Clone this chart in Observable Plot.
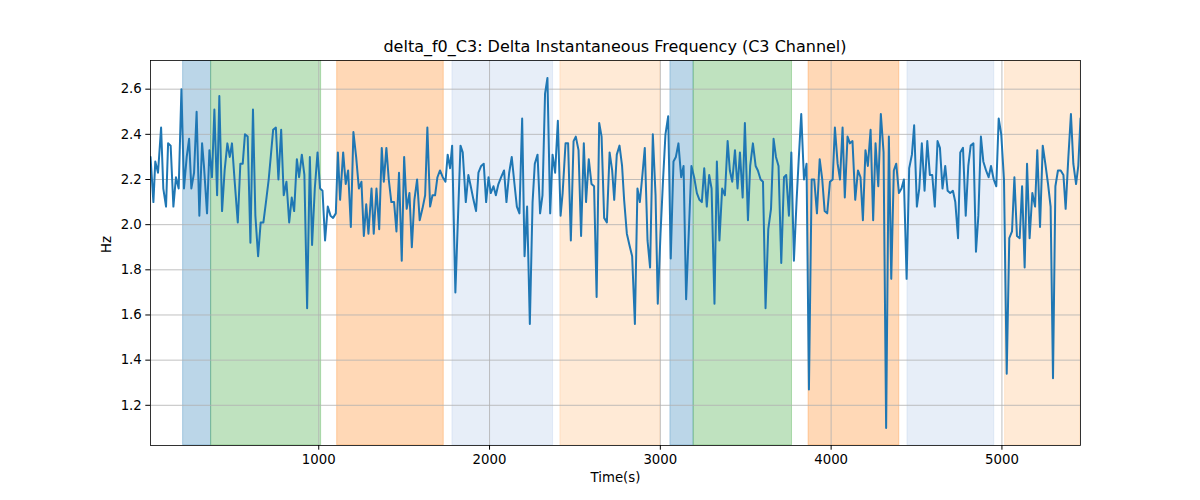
<!DOCTYPE html>
<html>
<head>
<meta charset="utf-8">
<script src="https://cdn.jsdelivr.net/npm/d3@7"></script>
<script src="https://cdn.jsdelivr.net/npm/@observablehq/plot@0.6"></script>
<style>
  html, body { margin: 0; padding: 0; background: #fff; }
  #title { width: 1200px; height: 52px; box-sizing: border-box; padding-top: 39px; padding-left: 30px;
           text-align: center; font-family: "DejaVu Sans", sans-serif; font-size: 16px; line-height: 16px; color: #000; }
  #chart svg { display: block; }
</style>
</head>
<body>
<div id="title">delta_f0_C3: Delta Instantaneous Frequency (C3 Channel)</div>
<div id="chart"></div>
<script>
const titleText = "delta_f0_C3: Delta Instantaneous Frequency (C3 Channel)";
const xLabel = "Time(s)";
const yLabel = "Hz";
const xTicks = [1000, 2000, 3000, 4000, 5000];
const yTicks = [1.2, 1.4, 1.6, 1.8, 2.0, 2.2, 2.4, 2.6];
const xDomain = [15, 5460];
const yDomain = [1.022, 2.727];

const spanStart = [206, 370, 1108, 1783, 2415, 3059, 3195, 3868, 4447, 5019];
const spanEnd   = [370, 1014, 1732, 2372, 3000, 3195, 3771, 4399, 4955, 5460];
const spanPhase = ["A", "B", "C", "D", "E", "A", "B", "C", "D", "E"];
const phaseNames = ["A", "B", "C", "D", "E"];
const phaseColors = ["#1f77b4", "#2ca02c", "#ff7f0e", "#aec7e8", "#ffbb78"];

const times = [
  15, 32, 43, 59, 77, 90, 106, 118, 133, 149, 164, 180, 196, 211, 227, 241, 254, 270, 285, 301, 317, 328, 346, 360, 375, 389, 405, 418, 434, 449, 465, 479, 492, 508, 526, 541, 555, 568, 584, 600, 615, 629, 645, 660, 676, 691, 707,
  719, 733, 749, 764, 780, 795, 811, 827, 842, 856, 872, 885, 901, 916, 932, 948, 961, 977, 993, 1008, 1022, 1037, 1053, 1069, 1084, 1100, 1112, 1125, 1143, 1158, 1172, 1188, 1203, 1219, 1235, 1250, 1264, 1278, 1291, 1309, 1322, 1338, 1354,
  1369, 1381, 1396, 1410, 1425, 1441, 1455, 1470, 1486, 1500, 1515, 1531, 1545, 1560, 1576, 1591, 1607, 1623, 1636, 1652, 1666, 1681, 1695, 1710, 1726, 1742, 1755, 1769, 1781, 1800, 1830, 1843, 1861, 1876, 1890, 1906, 1921, 1935, 1951, 1966, 1980, 1994, 2007, 2023,
  2037, 2052, 2068, 2085, 2099, 2115, 2130, 2146, 2160, 2175, 2191, 2205, 2220, 2236, 2252, 2265, 2281, 2296, 2310, 2325, 2339, 2355, 2369, 2384, 2400, 2416, 2428, 2445, 2460, 2476, 2492, 2505, 2521, 2536, 2552, 2565, 2581, 2597, 2612, 2627, 2642, 2656, 2671, 2687, 2703,
  2718, 2730, 2745, 2761, 2776, 2788, 2804, 2819, 2835, 2851, 2866, 2880, 2895, 2909, 2925, 2940, 2956, 2972, 2985, 3001, 3016, 3030, 3046, 3061, 3077, 3091, 3106, 3122, 3136, 3151, 3182, 3198, 3214, 3229, 3243, 3257, 3272, 3286, 3300, 3317, 3331, 3346, 3362, 3378,
  3394, 3407, 3421, 3437, 3452, 3466, 3482, 3495, 3513, 3526, 3542, 3558, 3571, 3587, 3601, 3616, 3632, 3648, 3663, 3677, 3692, 3708, 3724, 3737, 3753, 3767, 3782, 3798, 3811, 3825, 3841, 3856, 3870, 3886, 3901, 3917, 3933, 3948, 3962, 3977, 3993, 4009, 4022, 4038, 4052,
  4067, 4080, 4096, 4110, 4125, 4141, 4157, 4172, 4186, 4201, 4215, 4231, 4246, 4260, 4276, 4291, 4307, 4322, 4338, 4352, 4367, 4381, 4397, 4412, 4426, 4442, 4457, 4473, 4486, 4502, 4516, 4531, 4547, 4563, 4578, 4592, 4607, 4623, 4637, 4652, 4668, 4682, 4697, 4713, 4727,
  4743, 4756, 4772, 4788, 4803, 4817, 4833, 4848, 4862, 4877, 4891, 4907, 4922, 4936, 4952, 4967, 4981, 4996, 5012, 5028, 5043, 5059, 5073, 5088, 5104, 5118, 5133, 5147, 5162, 5178, 5194, 5207, 5223, 5239, 5254, 5270, 5285, 5299, 5313, 5328, 5344, 5360, 5373, 5389, 5404, 5418, 5434, 5447, 5460
];
const values = [
  2.30, 2.10, 2.28, 2.23, 2.43, 2.16, 2.08, 2.36, 2.35, 2.08, 2.21, 2.16, 2.60, 2.16, 2.30, 2.38, 2.16, 2.23, 2.50, 2.04, 2.36, 2.26, 2.05, 2.33, 2.21, 2.51, 2.13, 2.57, 2.06, 2.24, 2.36, 2.30, 2.36, 2.19, 2.01, 2.27, 2.27, 2.40, 2.39, 1.92, 2.51, 2.04, 1.86, 2.01, 2.01, 2.10, 2.20,
  2.30, 2.42, 2.43, 2.20, 2.42, 2.13, 2.19, 2.01, 2.12, 2.06, 2.29, 2.21, 2.31, 2.22, 1.63, 2.30, 1.91, 2.16, 2.32, 2.16, 2.15, 1.93, 2.08, 2.04, 2.03, 2.05, 2.32, 2.11, 2.32, 2.18, 2.24, 1.99, 2.41, 2.30, 2.16, 2.19, 1.95, 2.09, 1.96, 2.16, 1.96, 2.16, 1.98,
  2.34, 2.19, 2.34, 2.20, 2.10, 2.10, 1.97, 2.23, 1.84, 2.30, 2.07, 2.14, 1.90, 2.11, 2.20, 2.02, 2.07, 2.13, 2.43, 2.08, 2.13, 2.13, 2.21, 2.24, 2.21, 2.19, 2.31, 2.25, 2.35, 1.70, 2.35, 2.32, 2.10, 2.22, 2.17, 2.11, 2.06, 2.23, 2.26, 2.27, 2.10, 2.21, 2.14, 2.17,
  2.13, 2.18, 2.21, 2.24, 2.10, 2.23, 2.30, 2.18, 2.08, 2.05, 2.47, 1.86, 2.08, 1.56, 2.10, 2.27, 2.31, 2.05, 2.13, 2.58, 2.65, 2.05, 2.31, 2.23, 2.46, 2.04, 2.14, 2.36, 2.36, 1.93, 2.37, 2.39, 2.33, 1.95, 2.36, 2.10, 2.29, 2.18, 2.17, 1.68, 2.45, 2.39, 2.03, 2.01, 2.32,
  2.24, 2.11, 2.31, 2.35, 2.26, 2.11, 1.96, 1.91, 1.86, 1.56, 2.16, 2.10, 2.22, 2.34, 1.93, 1.81, 2.40, 2.13, 1.65, 1.96, 2.20, 2.40, 2.48, 1.85, 2.28, 2.30, 2.36, 2.21, 2.26, 1.67, 2.26, 2.21, 2.14, 2.11, 2.10, 2.25, 2.08, 2.22, 2.16, 1.65, 2.28, 1.93, 2.16, 2.13,
  2.37, 2.24, 2.19, 2.33, 2.16, 2.32, 2.12, 2.45, 2.02, 2.26, 2.36, 2.26, 2.24, 2.20, 2.19, 1.63, 1.98, 2.07, 2.38, 2.30, 2.26, 1.83, 2.21, 2.22, 2.04, 2.32, 1.84, 2.11, 2.30, 2.49, 2.20, 2.27, 1.27, 2.20, 2.20, 2.05, 2.29, 2.20, 2.06, 2.05, 2.19, 2.20, 2.43, 2.27, 2.20,
  2.43, 2.12, 2.39, 2.36, 2.37, 2.11, 2.24, 2.21, 2.02, 2.33, 2.26, 2.42, 2.02, 2.36, 2.17, 2.49, 2.32, 1.10, 2.39, 1.76, 2.24, 2.27, 2.14, 2.16, 2.20, 1.76, 2.25, 2.31, 2.44, 2.08, 2.16, 2.36, 2.15, 2.37, 2.22, 2.22, 2.08, 2.37, 2.34, 2.16, 2.26, 2.15, 2.14, 2.15, 2.10,
  1.94, 2.32, 2.34, 2.04, 2.26, 2.35, 2.36, 1.88, 2.04, 2.39, 2.28, 2.24, 2.21, 2.26, 2.20, 2.17, 2.47, 2.40, 2.20, 1.34, 1.94, 1.97, 2.21, 1.95, 1.94, 2.17, 1.81, 2.27, 1.94, 2.14, 2.08, 2.33, 1.99, 2.35, 2.27, 2.18, 2.08, 1.32, 2.17, 2.24, 2.24, 2.22, 2.07, 2.30, 2.49, 2.27, 2.18, 2.26, 2.47
];

const n = Math.min(times.length, values.length);
const series = d3.range(n).map(i => ({t: times[i], v: values[i]}));
const spans = spanStart.map((s, i) => ({x1: s, x2: spanEnd[i], phase: spanPhase[i]}));

const chart = Plot.plot({
  width: 1200,
  height: 448,
  marginLeft: 150,
  marginRight: 120,
  marginTop: 8,
  marginBottom: 55,
  style: {fontFamily: "DejaVu Sans, sans-serif", fontSize: "13.3px", color: "#000", background: "#fff"},
  x: {domain: xDomain},
  y: {domain: yDomain},
  color: {type: "ordinal", domain: phaseNames, range: phaseColors},
  marks: [
    Plot.rect(spans, {x1: "x1", x2: "x2", y1: () => yDomain[0], y2: () => yDomain[1], fill: "phase", fillOpacity: 0.3, stroke: "phase", strokeOpacity: 0.3, strokeWidth: 1, clip: true}),
    Plot.gridX(xTicks, {stroke: "#b0b0b0", strokeOpacity: 1, strokeWidth: 0.8}),
    Plot.gridY(yTicks, {stroke: "#b0b0b0", strokeOpacity: 1, strokeWidth: 0.8}),
    Plot.line(series, {x: "t", y: "v", stroke: "#1f77b4", strokeWidth: 2, clip: true}),
    Plot.frame({stroke: "#000", strokeWidth: 0.8}),
    Plot.axisX(xTicks, {tickSize: 4.7, tickPadding: 4, label: null, tickFormat: d => String(d), fontSize: 13.3}),
    Plot.axisY(yTicks, {tickSize: 4.7, tickPadding: 4, label: null, tickFormat: d3.format(".1f"), fontSize: 13.3}),
    Plot.text([xLabel], {frameAnchor: "bottom", dy: 36, text: d => d, fontSize: 13.3}),
    Plot.text([yLabel], {frameAnchor: "left", dx: -44, rotate: -90, text: d => d, fontSize: 13.3})
  ]
});
document.getElementById("chart").appendChild(chart);
</script>
</body>
</html>
